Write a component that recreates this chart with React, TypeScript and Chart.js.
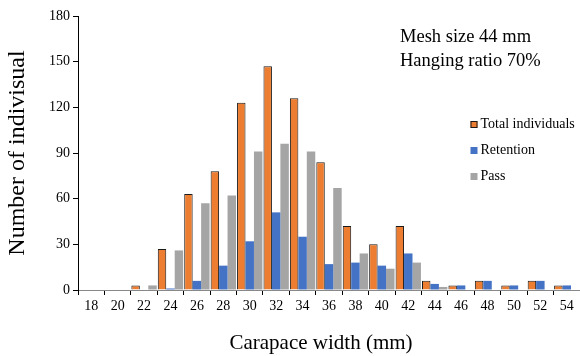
import React, { useEffect, useRef } from "react";
import { Chart, registerables } from "chart.js";

Chart.register(...registerables);

const categories = ["18", "20", "22", "24", "26", "28", "30", "32", "34", "36", "38", "40", "42", "44", "46", "48", "50", "52", "54"];
const totalIndividuals = [0, 0, 3, 27, 63, 78, 123, 147, 126, 84, 42, 30, 42, 6, 3, 6, 3, 6, 3];
const retention = [0, 0, 0, 1, 6, 16, 32, 51, 35, 17, 18, 16, 24, 4, 3, 6, 3, 6, 3];
const pass = [0, 0, 3, 26, 57, 62, 91, 96, 91, 67, 24, 14, 18, 2, 0, 0, 0, 0, 0];
const yTicks = [0, 30, 60, 90, 120, 150, 180];
const annotationLines = ["Mesh size 44 mm", "Hanging ratio 70%"];
const xTitle = "Carapace width (mm)";

const FONT = "'Liberation Serif', 'Times New Roman', serif";

const overlayPlugin = {
  id: "overlay",
  afterDraw(chart: any) {
    const ctx = chart.ctx;
    ctx.save();
    ctx.fillStyle = "#000";
    ctx.textBaseline = "middle";
    // x axis title
    ctx.font = `21px ${FONT}`;
    ctx.textAlign = "center";
    ctx.fillText(xTitle, 321, 343);
    // annotation
    ctx.textAlign = "left";
    ctx.font = `18.5px ${FONT}`;
    annotationLines.forEach((t, i) => {
      ctx.fillText(t, 400, 37 + i * 24);
    });
    // legend
    ctx.font = `14px ${FONT}`;
    const ds = chart.data.datasets;
    ds.forEach((d: any, i: number) => {
      const y = 124.5 + i * 26;
      const x = 470.5;
      ctx.fillStyle = d.backgroundColor;
      ctx.fillRect(x, y - 3.5, 7, 7);
      if (d.borderWidth) {
        ctx.strokeStyle = d.borderColor;
        ctx.lineWidth = 1;
        ctx.strokeRect(x + 0.5, y - 3, 6, 6);
      }
      ctx.fillStyle = "#000";
      ctx.fillText(d.label, 480.5, y);
    });
    ctx.restore();
  },
};

export default function App() {
  const ref = useRef<HTMLCanvasElement>(null);
  useEffect(() => {
    document.body.style.margin = "0";
    const chart = new Chart(ref.current!, {
      type: "bar",
      data: {
        labels: categories,
        datasets: [
          {
            label: "Total individuals",
            data: totalIndividuals,
            backgroundColor: "#ED7D31",
            borderColor: "#1a1a1a",
            borderWidth: 1,
          },
          {
            label: "Retention",
            data: retention,
            backgroundColor: "#4472C4",
            borderWidth: 0,
          },
          {
            label: "Pass",
            data: pass,
            backgroundColor: "#A5A5A5",
            borderWidth: 0,
          },
        ],
      },
      options: {
        animation: false,
        responsive: false,
        maintainAspectRatio: false,
        layout: { padding: { left: 0, right: 0, top: 16, bottom: 0 } },
        datasets: { bar: { categoryPercentage: 0.96, barPercentage: 1 } },
        plugins: { legend: { display: false }, tooltip: { enabled: false } },
        scales: {
          x: {
            grid: {
              display: true,
              drawOnChartArea: false,
              drawTicks: true,
              tickLength: 5,
              color: "#000",
              offset: true,
            },
            border: { display: true, color: "#888", width: 1 },
            ticks: { color: "#000", font: { family: FONT, size: 14 }, padding: 3, maxRotation: 0, autoSkip: false },
            title: { display: false },
            afterFit(scale: any) {
              scale.height = 66;
            },
          },
          y: {
            min: 0,
            max: 180,
            afterBuildTicks(scale: any) {
              scale.ticks = yTicks.map((v) => ({ value: v }));
            },
            grid: {
              display: true,
              drawOnChartArea: false,
              drawTicks: true,
              tickLength: 5,
              color: "#000",
            },
            border: { display: true, color: "#000", width: 1 },
            ticks: { color: "#000", font: { family: FONT, size: 14 }, padding: 3 },
            title: {
              display: true,
              text: "Number of indivisual",
              color: "#000",
              font: { family: FONT, size: 24 },
              padding: { top: 3, bottom: 0 },
            },
            afterFit(scale: any) {
              scale.width = 78;
            },
          },
        },
      },
      plugins: [overlayPlugin],
    });
    return () => chart.destroy();
  }, []);
  return (
    <div style={{ position: "absolute", left: 0, top: 0, width: 580, height: 356 }}>
      <canvas ref={ref} width={580} height={356} style={{ width: 580, height: 356 }} />
    </div>
  );
}
